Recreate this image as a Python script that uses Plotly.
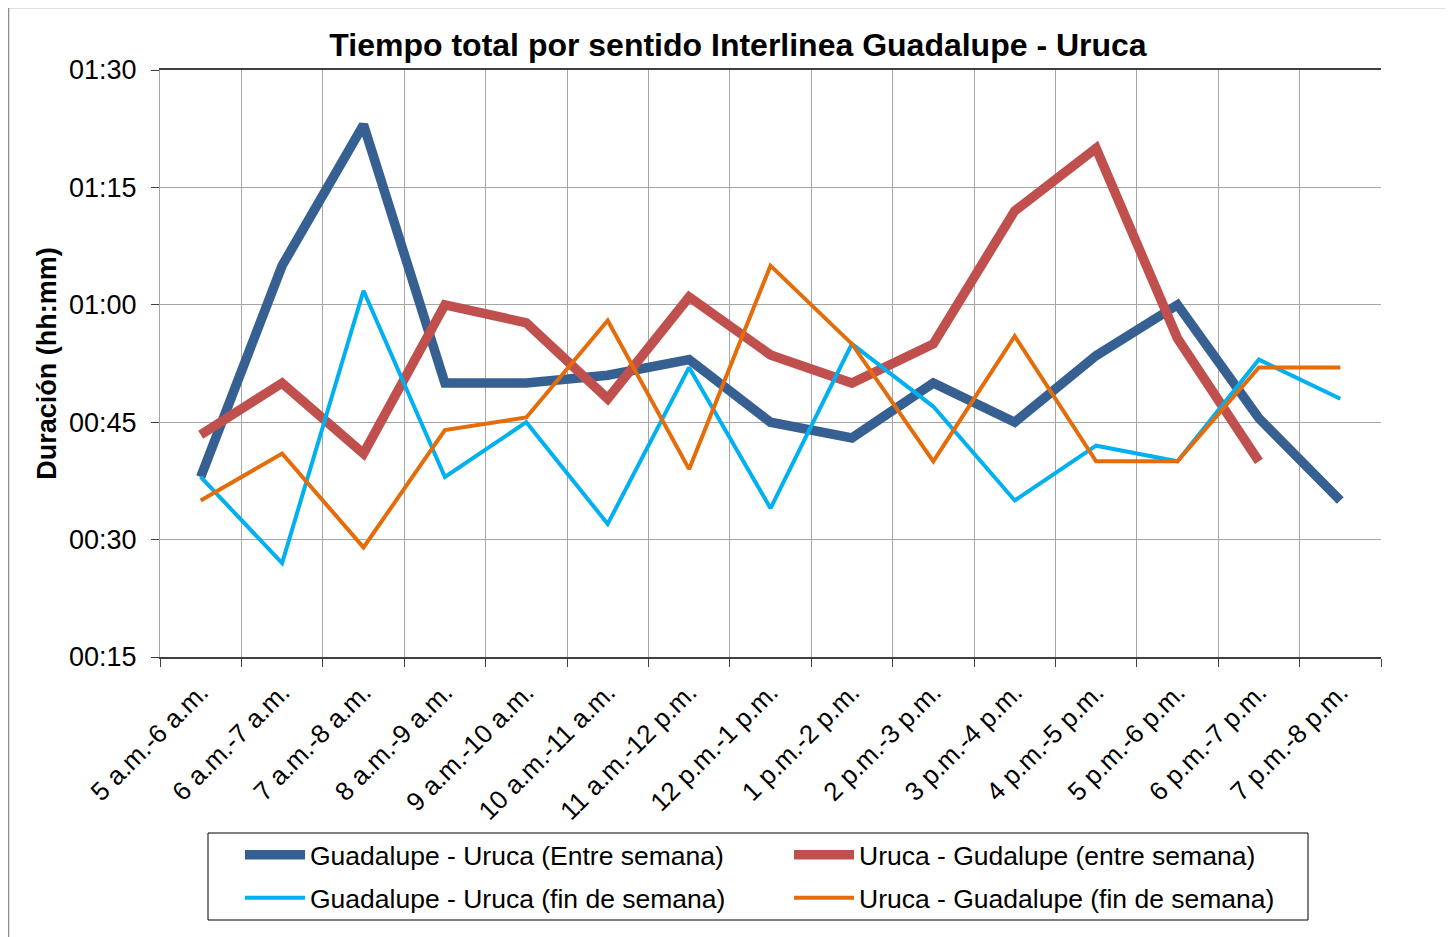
import plotly.graph_objects as go

categories = ["5 a.m.-6 a.m.", "6 a.m.-7 a.m.", "7 a.m.-8 a.m.", "8 a.m.-9 a.m.",
              "9 a.m.-10 a.m.", "10 a.m.-11 a.m.", "11 a.m.-12 p.m.", "12 p.m.-1 p.m.",
              "1 p.m.-2 p.m.", "2 p.m.-3 p.m.", "3 p.m.-4 p.m.", "4 p.m.-5 p.m.",
              "5 p.m.-6 p.m.", "6 p.m.-7 p.m.", "7 p.m.-8 p.m."]

# durations in minutes
gu_entre = [38, 65, 83, 50, 50, 51, 53, 45, 43, 50, 45, 53.5, 60, 45.5, 35]
ug_entre = [43.4, 50, 41, 60, 57.7, 48, 61, 53.6, 50, 55, 72, 80, 55.7, 40, None]
gu_fin = [38, 27, 61.8, 38, 45, 32, 52, 34, 55, 47, 35, 42, 40, 53, 48]
ug_fin = [35, 41, 29, 44, 45.6, 58, 39, 65, 55, 40, 56, 40, 40, 52, 52]

names = ["Guadalupe - Uruca (Entre semana)", "Uruca - Gudalupe (entre semana)",
         "Guadalupe - Uruca (fin de semana)", "Uruca - Guadalupe (fin de semana)"]

ytick_vals = [15, 30, 45, 60, 75, 90]
ytick_text = ["00:15", "00:30", "00:45", "01:00", "01:15", "01:30"]

series = [gu_entre, ug_entre, gu_fin, ug_fin]
colors = ["#376092", "#C0504D", "#00B0F0", "#E46C0A"]
widths = [9.5, 9.5, 4, 4]
legend_ids = ["legend", "legend", "legend2", "legend2"]

fig = go.Figure()
for vals, name, c, w, lg in zip(series, names, colors, widths, legend_ids):
    fig.add_trace(go.Scatter(x=categories, y=vals, name=name, mode="lines",
                             line=dict(color=c, width=w), connectgaps=False,
                             legend=lg))

OFF = 8  # page body margin
W, H = 1454 - OFF, 937 - OFF
L, R, T, B = 160 - OFF, 1381 - OFF, 70 - OFF, 657 - OFF
pw, ph = R - L, B - T

def px(x):
    return (x - OFF - L) / pw

def py(y):
    return (B - (y - OFF)) / ph

legend_common = dict(orientation="h", xanchor="left", yanchor="middle",
                     entrywidth=474, entrywidthmode="pixels", itemwidth=60,
                     borderwidth=0, bgcolor="rgba(0,0,0,0)",
                     font=dict(size=26.5), traceorder="normal")

fig.update_layout(
    width=W, height=H,
    margin=dict(l=L, r=W - R, t=T, b=H - B, autoexpand=False),
    paper_bgcolor="white", plot_bgcolor="white",
    font=dict(family="Liberation Sans, Arial, sans-serif", color="black", size=26),
    title=dict(text="<b>Tiempo total por sentido Interlinea Guadalupe - Uruca</b>",
               x=(738 - OFF) / W, xanchor="center", y=1 - (45 - OFF) / H, yanchor="middle",
               xref="container", yref="container",
               font=dict(size=32, color="black")),
    xaxis=dict(type="category", range=[-0.5, 14.5], tickson="boundaries",
               showgrid=True, gridcolor="#A6A6A6", gridwidth=1,
               showline=True, linecolor="#404040", linewidth=1.5, mirror=True,
               ticks="outside", ticklen=8, tickcolor="#404040",
               tickangle=-45, tickfont=dict(size=26), automargin=False,
               ticklabelstandoff=8),
    yaxis=dict(range=[15, 90], tickvals=ytick_vals, ticktext=ytick_text,
               showgrid=True, gridcolor="#A6A6A6", gridwidth=1,
               showline=True, linecolor="#A6A6A6", linewidth=1,
               ticks="outside", ticklen=8, tickcolor="#404040",
               zeroline=False, tickfont=dict(size=27), automargin=False,
               ticklabelstandoff=9,
               title=dict(text="<b>Duración (hh:mm)</b>", font=dict(size=27), standoff=4)),
    legend=dict(x=px(240), y=py(855), **legend_common),
    legend2=dict(x=px(240), y=py(898), **legend_common),
    showlegend=True,
)

# outer chart border
fig.add_shape(type="rect", xref="paper", yref="paper",
              x0=px(8.5), x1=px(1451), y0=py(945), y1=py(7.5),
              line=dict(color="#8C8C8C", width=1.5), fillcolor="rgba(0,0,0,0)",
              layer="below")
# legend frame
fig.add_shape(type="rect", xref="paper", yref="paper",
              x0=px(208), x1=px(1308), y0=py(920), y1=py(833),
              line=dict(color="black", width=1), fillcolor="rgba(0,0,0,0)",
              layer="below")

fig.write_html("out.html")
